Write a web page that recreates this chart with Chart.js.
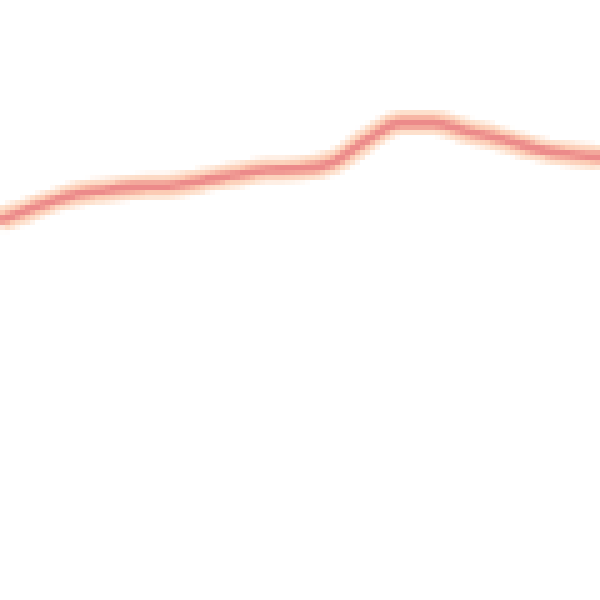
<!DOCTYPE html>
<html>
<head>
<meta charset="utf-8">
<script src="https://cdn.jsdelivr.net/npm/chart.js@4"></script>
<style>
html,body{margin:0;padding:0;background:#fff;}
#wrap{width:600px;height:600px;position:relative;}
canvas{image-rendering:pixelated;}
</style>
</head>
<body>
<div id="wrap"><canvas id="c"></canvas></div>
<script>
const labels = ["0","1","2","3","4","5","6","7","8","9","10","11","12","13","14","15","16","17","18"];
const values = [380, 392, 403, 409, 413, 414, 419, 425, 430, 431, 438, 460, 477, 477, 469, 461, 452, 446, 443];

new Chart(document.getElementById('c'), {
  type: 'line',
  data: {
    labels: labels,
    datasets: [
      { data: values, borderColor: '#ec8a8a', borderWidth: 8, pointRadius: 0, cubicInterpolationMode: 'monotone', fill: false },
      { data: values, borderColor: '#fbc4ac', borderWidth: 15, pointRadius: 0, cubicInterpolationMode: 'monotone', fill: false },
      { data: values, borderColor: '#fde0cc', borderWidth: 25, pointRadius: 0, cubicInterpolationMode: 'monotone', fill: false }
    ]
  },
  options: {
    responsive: true,
    maintainAspectRatio: false,
    devicePixelRatio: 0.2,
    animation: false,
    layout: { padding: 0 },
    plugins: { legend: { display: false }, tooltip: { enabled: false } },
    scales: {
      x: { display: false, offset: false },
      y: { display: false, min: 0, max: 600 }
    }
  }
});
</script>
</body>
</html>
